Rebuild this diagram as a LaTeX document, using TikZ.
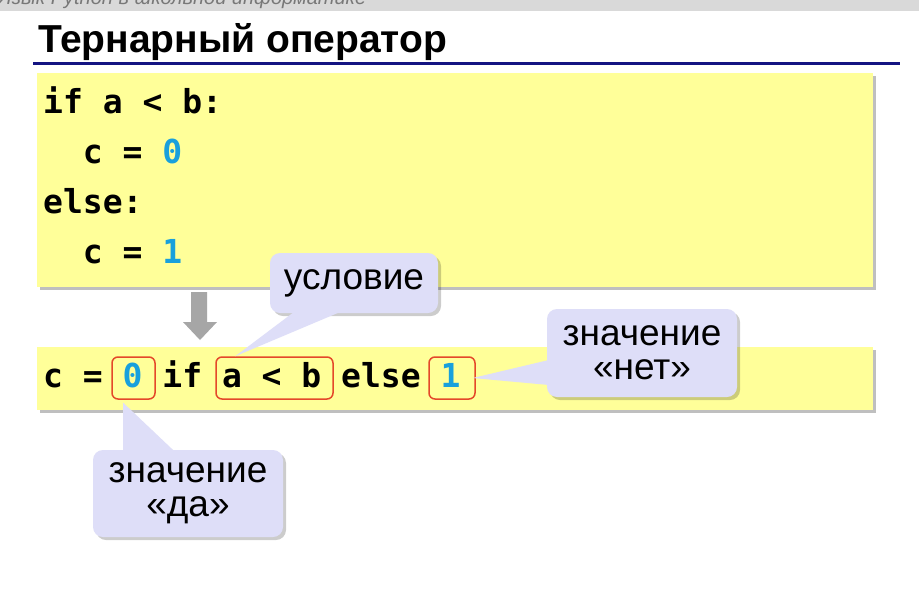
\documentclass[tikz,border=0pt]{standalone}
\usepackage{fontspec}
\setmainfont{Liberation Sans}
\setmonofont{DejaVu Sans Mono}
\usetikzlibrary{shadows,calc}

\definecolor{bandgray}{RGB}{217,217,217}
\definecolor{runninggray}{RGB}{120,120,120}
\definecolor{rulenavy}{RGB}{20,20,130}
\definecolor{codeyellow}{RGB}{255,255,153}
\definecolor{numblue}{RGB}{25,160,220}
\definecolor{markred}{RGB}{228,72,42}
\definecolor{tipfill}{RGB}{222,222,248}
\definecolor{arrowgray}{RGB}{166,166,166}

\newcommand{\num}[1]{\textcolor{numblue}{#1}}

\begin{document}
\begin{tikzpicture}[x=1pt,y=-1pt,
  codebox/.style={fill=codeyellow, anchor=north west, inner sep=0,
    drop shadow={shadow xshift=3pt, shadow yshift=-3pt, fill=black, opacity=0.25}},
  codeline/.style={anchor=base west, inner sep=0,
    font=\ttfamily\bfseries\fontsize{33}{40}\selectfont},
  partbox/.style={draw=markred, line width=1.5pt, rounded corners=6pt,
    minimum height=42pt, inner sep=0},
  tipbox/.style={fill=tipfill, rounded corners=10pt, inner sep=0,
    align=center, font=\fontsize{37}{34}\selectfont,
    drop shadow={shadow xshift=3pt, shadow yshift=-3pt, fill=black, opacity=0.2}},
  tippointer/.style={fill=tipfill}]

\useasboundingbox (0,0) rectangle (919,595);
\clip (0,0) rectangle (919,595);
\fill[white] (0,0) rectangle (919,595);

% running header
\fill[bandgray] (0,-30) rectangle (919,11);
\node[anchor=base west, inner sep=0, text=runninggray,
  font=\itshape\fontsize{20}{24}\selectfont] (running) at (-2,4)
  {Язык Python в школьной информатике};

% title and rule
\node[anchor=base west, inner sep=0,
  font=\bfseries\fontsize{39}{46}\selectfont] (title) at (38,52)
  {Тернарный оператор};
\draw[rulenavy, line width=3pt] (33,63) -- (900,63);

% full if/else form
\node[codebox, minimum width=836pt, minimum height=214pt] (ifbox) at (37,73) {};
\node[codeline] (l1) at (43,113) {if a < b:};
\node[codeline] (l2) at (82.7,163) {c = \num{0}};
\node[codeline] (l3) at (43,213) {else:};
\node[codeline] (l4) at (82.7,263) {c = \num{1}};

% block arrow
\fill[arrowgray] (191,292) -- (207,292) -- (207,322) -- (217,322)
  -- (200,340) -- (183,322) -- (191,322) -- cycle;

% ternary form
\node[codebox, minimum width=836pt, minimum height=63pt] (ternbox) at (37,347) {};
\node[codeline] (tern) at (43,387) {c = \num{0} if a < b else \num{1}};

% highlighted parts
\node[partbox, minimum width=43pt] (b0) at (133.5,378) {};
\node[partbox, minimum width=117pt] (bcond) at (274.5,378) {};
\node[partbox, minimum width=46pt] (b1) at (452,378) {};

% callouts
\node[tipbox, minimum width=168pt, minimum height=60pt] (cond) at (354,283) {условие};
\fill[tippointer] ($(cond.south)+(-59,-2)$) -- ($(bcond.north west)+(20,0)$)
  -- ($(cond.south)+(-12,-2)$) -- cycle;

\node[tipbox, minimum width=190pt, minimum height=88pt] (no) at (642,353)
  {значение\\«нет»};
\fill[tippointer] ($(no.west)+(2,7)$) -- ($(b1.east)+(-3,0)$)
  -- ($(no.west)+(2,32)$) -- cycle;

\node[tipbox, minimum width=190pt, minimum height=87pt] (yes) at (188,493.5)
  {значение\\«да»};
\fill[tippointer] ($(yes.north)+(-65,2)$) -- ($(b0.south west)+(12,3)$)
  -- ($(yes.north)+(-13,2)$) -- cycle;

\end{tikzpicture}
\end{document}
